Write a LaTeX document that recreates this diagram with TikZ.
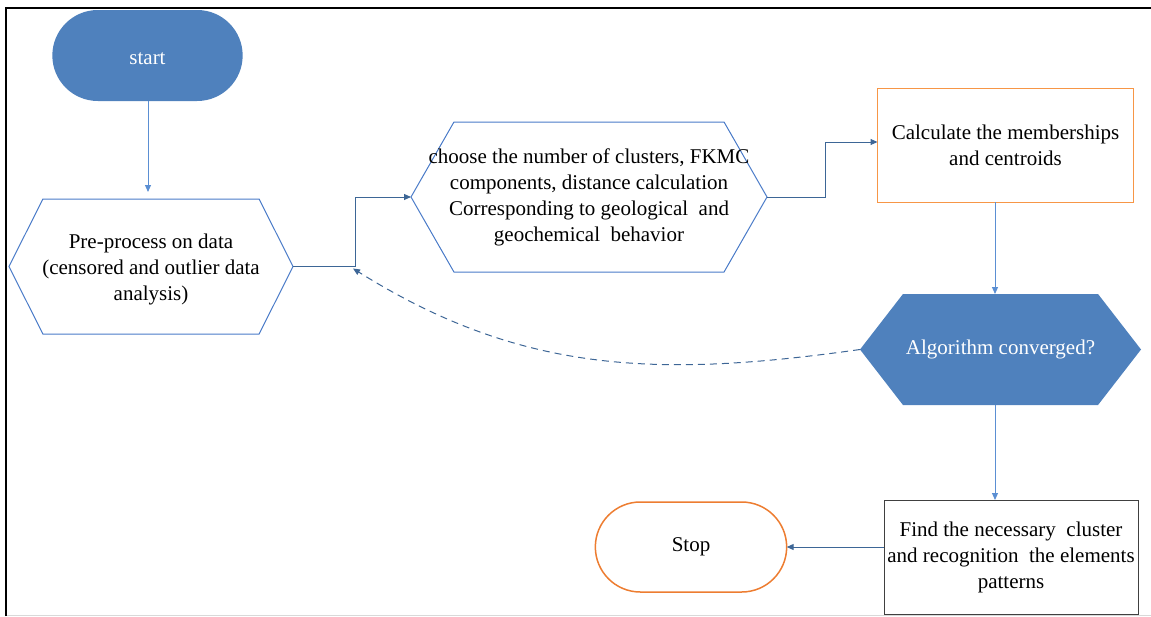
\documentclass[tikz,border=0pt]{standalone}
\usepackage{fontspec}
\setmainfont{Liberation Serif}
\usepackage{tikz}
\usetikzlibrary{arrows.meta,positioning,calc,shapes.misc,shapes.symbols}
\definecolor{flowBlue}{HTML}{4F81BD}
\definecolor{edgeBlue}{HTML}{4A7BC8}
\definecolor{linkBlue}{HTML}{3D6696}
\definecolor{paleBlue}{HTML}{5B8FD3}
\definecolor{flowOrange}{HTML}{F79646}
\definecolor{stopOrange}{HTML}{ED7D31}
\definecolor{frameGray}{HTML}{D9D9D9}

\begin{document}
\begin{tikzpicture}[x=1pt,y=-1pt,font=\fontsize{21}{26}\selectfont,>={Triangle[length=7pt,width=6pt]},
  term/.style={rounded rectangle,align=center,outer sep=0pt},
  hexa/.style={signal,signal to=east and west,outer sep=0pt,inner sep=0pt},
  proc/.style={rectangle,align=center,outer sep=0pt},
  link/.style={linkBlue,line width=1pt},
  feed/.style={paleBlue,line width=1pt}]
\useasboundingbox (0,0) rectangle (1151,616);
% frame
\draw[frameGray,line width=1pt] (6,615) -- (1151,615);
\draw[line width=2pt] (6,616) -- (6,8) -- (1151,8);
% left column : start and pre-processing
\node[term,fill=flowBlue,text=white,minimum width=197pt,minimum height=91pt] (start) at (147.5,55.5) {\raisebox{-3pt}[\height][\depth]{start}};
\node[hexa,draw=edgeBlue,line width=1pt,signal pointer angle=126.7,minimum width=284pt,minimum height=135pt,
  label={[align=center,yshift=-3pt]center:Pre-process on data\\(censored and outlier data\\analysis)}] (pre) at (151,266.5) {};
% middle : parameters
\node[hexa,draw=edgeBlue,line width=1pt,signal pointer angle=120.4,minimum width=356pt,minimum height=150pt,
  label={[align=center]center:choose the number of clusters, FKMC\\components, distance calculation\\Corresponding to geological\ \ and\\geochemical\ \ behavior}] (choose) at (589,197) {};
% right column : iteration
\node[proc,draw=flowOrange,minimum width=256pt,minimum height=114pt] (calc) at (1005.5,145) {Calculate the memberships\\and centroids};
\node[hexa,fill=flowBlue,signal pointer angle=104.5,minimum width=281pt,minimum height=111pt,
  label={[text=white]center:Algorithm converged?}] (algo) at (1000.5,349.5) {};
\node[proc,draw=black!75,minimum width=254pt,minimum height=114pt] (find) at (1011,557) {Find the necessary\ \ cluster\\and recognition\ \ the elements\\patterns};
\node[term,draw=stopOrange,line width=1.5pt,minimum width=198pt,minimum height=90pt] (stop) at (691,547) {Stop};
% connectors
\coordinate (join) at (355,266.5);
\coordinate (colx) at (995,0);
\draw[feed,->] (start.south -| 148,0) -- ([yshift=7pt]pre.north -| 148,0);
\draw[link,->] (pre.east) -- (join) |- (choose.west);
\draw[link,->] (choose.east) -- ++(58,0) |- ([yshift=3pt]calc.west);
\draw[feed,->] (calc.south -| colx) -- (algo.north -| colx);
\draw[feed,->] (algo.south -| colx) -- (find.north -| colx);
\draw[link,->] (find.west |- stop.east) -- (stop.east);
\draw[link,dashed,dash pattern=on 7pt off 5pt,->] (algo.west) to[out=188,in=-32] ([shift={(-2pt,-2pt)}]join);
\end{tikzpicture}
\end{document}
